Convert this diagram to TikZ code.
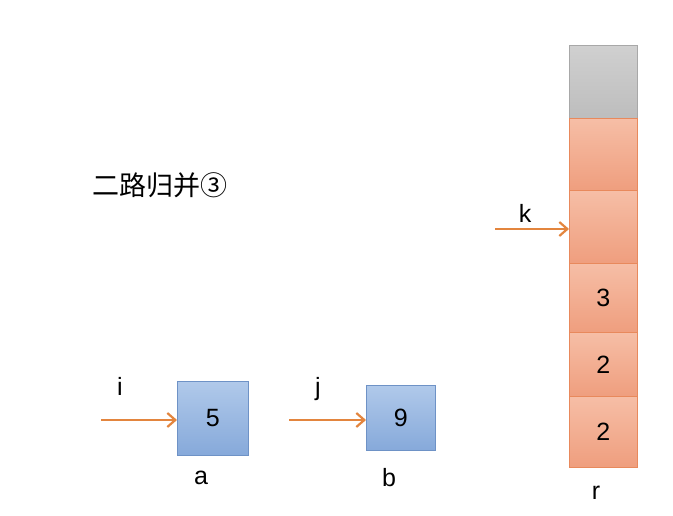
\documentclass[tikz,border=0pt]{standalone}
\usepackage{fontspec}
\setmainfont{Liberation Sans}
\newfontfamily\cjk{Noto Sans CJK SC}
\usetikzlibrary{arrows.meta}
\definecolor{boxline}{HTML}{6E92C6}
\definecolor{boxtop}{HTML}{B0C9EA}
\definecolor{boxbot}{HTML}{86A9DA}
\definecolor{cellline}{HTML}{E8895C}
\definecolor{celltop}{HTML}{F6BEA6}
\definecolor{cellbot}{HTML}{EF9E7E}
\definecolor{greyline}{HTML}{A8A8A8}
\definecolor{greytop}{HTML}{D0D0D0}
\definecolor{greybot}{HTML}{BDBDBD}
\definecolor{ptrcol}{HTML}{E3853E}
\tikzset{
  numbox/.style={draw=boxline, line width=0.8pt, top color=boxtop, bottom color=boxbot,
    inner sep=0pt, anchor=north west, font=\fontsize{25}{28}\selectfont},
  cellbox/.style={draw=cellline, line width=0.8pt, top color=celltop, bottom color=cellbot,
    inner sep=0pt, minimum width=68pt, anchor=north west, font=\fontsize{25}{28}\selectfont},
  ptr/.style={draw=ptrcol, line width=2.2pt, -{Straight Barb[length=8pt,width=14pt]}},
  lbl/.style={font=\fontsize{25}{28}\selectfont}
}
\begin{document}
\begin{tikzpicture}[x=1pt,y=-1pt]
  \useasboundingbox (0,0) rectangle (673,516);
  \node[lbl, anchor=west, font=\fontsize{27}{30}\selectfont] (title) at (89,185) {\cjk 二路归并③};
  % result column r
  \node[cellbox, draw=greyline, top color=greytop, bottom color=greybot,
    minimum height=73pt] (r0) at (569,45) {};
  \node[cellbox, minimum height=72pt] (r1) at (569,118) {};
  \node[cellbox, minimum height=73pt] (r2) at (569,190) {};
  \node[cellbox, minimum height=69pt] (r3) at (569,263) {3};
  \node[cellbox, minimum height=64pt] (r4) at (569,332) {2};
  \node[cellbox, minimum height=71pt] (r5) at (569,396) {2};
  \node[lbl] (rname) at (596,493) {r};
  % pointer k
  \coordinate (kstart) at (495,229);
  \draw[ptr] (kstart) -- (r2.west |- kstart);
  \node[lbl] (kname) at (525,213) {k};
  % array a
  \node[numbox, minimum width=71pt, minimum height=74pt] (a) at (177,381) {5};
  \node[lbl] (aname) at (201,478) {a};
  \coordinate (istart) at (101,420);
  \draw[ptr] (istart) -- (a.west |- istart);
  \node[lbl] (iname) at (120,386) {i};
  % array b
  \node[numbox, minimum width=69pt, minimum height=65pt] (b) at (366,385) {9};
  \node[lbl] (bname) at (389,478) {b};
  \coordinate (jstart) at (289,420);
  \draw[ptr] (jstart) -- (b.west |- jstart);
  \node[lbl] (jname) at (318,389) {j};
\end{tikzpicture}
\end{document}
